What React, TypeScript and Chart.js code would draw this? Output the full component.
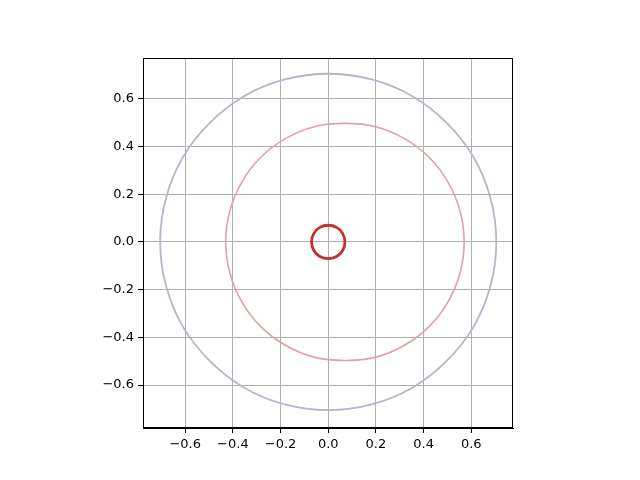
import React, { useEffect, useRef } from "react";
import { Chart, registerables } from "chart.js";

Chart.register(...registerables);

// Outer loop (gray-lavender), centre ~(0, 0), radius ~0.705
const outerX = [0.705, 0.681, 0.611, 0.498, 0.353, 0.182, 0.0, -0.182, -0.353, -0.498, -0.611, -0.681, -0.705, -0.681, -0.611, -0.498, -0.353, -0.182, 0.0, 0.182, 0.353, 0.498, 0.611, 0.681];
const outerY = [0.0, 0.182, 0.353, 0.498, 0.611, 0.681, 0.705, 0.681, 0.611, 0.498, 0.353, 0.182, 0.0, -0.182, -0.353, -0.498, -0.611, -0.681, -0.705, -0.681, -0.611, -0.498, -0.353, -0.182];

// Middle loop (pink), centre ~(0.07, 0), radius ~0.50
const middleX = [0.57, 0.553, 0.503, 0.424, 0.32, 0.199, 0.07, -0.059, -0.18, -0.284, -0.363, -0.413, -0.43, -0.413, -0.363, -0.284, -0.18, -0.059, 0.07, 0.199, 0.32, 0.424, 0.503, 0.553];
const middleY = [0.0, 0.129, 0.25, 0.354, 0.433, 0.483, 0.497, 0.483, 0.433, 0.354, 0.25, 0.129, 0.0, -0.129, -0.25, -0.354, -0.433, -0.483, -0.497, -0.483, -0.433, -0.354, -0.25, -0.129];

// Inner loop (red), centre ~(0, 0), radius ~0.07
const innerX = [0.07, 0.061, 0.035, 0.0, -0.035, -0.061, -0.07, -0.061, -0.035, 0.0, 0.035, 0.061];
const innerY = [0.0, 0.035, 0.061, 0.07, 0.061, 0.035, 0.0, -0.035, -0.061, -0.07, -0.061, -0.035];

const tickValues = [-0.6, -0.4, -0.2, 0.0, 0.2, 0.4, 0.6];

const toPts = (xs: number[], ys: number[]) => xs.map((x, i) => ({ x, y: ys[i] }));
const fmt = (v: number) => {
  const s = Number(v).toFixed(1);
  return s === "-0.0" ? "0.0" : s.replace("-", "\u2212");
};

// Treat each dataset line as a closed loop so the spline is smooth all round
const closedLoops = {
  id: "closedLoops",
  beforeDatasetDraw(chart: any, args: any) {
    const line = chart.getDatasetMeta(args.index).dataset;
    if (!line) return;
    line._loop = true;
    line._fullLoop = true;
    line._pointsUpdated = false;
    delete line._segments;
    delete line._path;
    line.updateControlPoints(chart.chartArea, "x");
  },
};

const frame = {
  id: "frame",
  afterDraw(chart: any) {
    const { ctx, chartArea: a } = chart;
    ctx.save();
    ctx.strokeStyle = "#000";
    ctx.lineWidth = 1;
    ctx.strokeRect(a.left + 0.5, a.top + 0.5, a.right - a.left - 1, a.bottom - a.top - 1);
    ctx.restore();
  },
};

export default function App() {
  const ref = useRef<HTMLCanvasElement>(null);
  useEffect(() => {
    if (!ref.current) return;
    const font = { family: "DejaVu Sans", size: 13 };
    const ds = (xs: number[], ys: number[], color: string, width: number, order: number) => ({
      data: toPts(xs, ys),
      borderColor: color,
      borderWidth: width,
      pointRadius: 0,
      tension: 0.36,
      fill: false,
      order,
    });
    const chart = new Chart(ref.current, {
      type: "line",
      data: {
        datasets: [
          ds(innerX, innerY, "#c62f2a", 2.8, 1),
          ds(middleX, middleY, "#dea2a8", 1.6, 2),
          ds(outerX, outerY, "#b6b6ca", 1.8, 3),
        ],
      },
      options: {
        responsive: false,
        animation: false,
        elements: { line: { capBezierPoints: false } },
        layout: { padding: { left: 0, right: 127, top: 58, bottom: 0 } },
        plugins: { legend: { display: false }, tooltip: { enabled: false } },
        scales: {
          x: {
            type: "linear",
            min: -0.777,
            max: 0.775,
            afterBuildTicks: (s: any) => { s.ticks = tickValues.map((v) => ({ value: v })); },
            afterFit: (s: any) => { s.height = 52; },
            ticks: { callback: (v: any) => fmt(v), color: "#000", font, padding: 4, maxRotation: 0 },
            grid: { color: "#b0b0b0", lineWidth: 1, tickColor: "#000", tickLength: 5 },
            border: { color: "#000", width: 1 },
          },
          y: {
            type: "linear",
            min: -0.78,
            max: 0.771,
            afterBuildTicks: (s: any) => { s.ticks = tickValues.map((v) => ({ value: v })); },
            afterFit: (s: any) => { s.width = 143; },
            ticks: { callback: (v: any) => fmt(v), color: "#000", font, padding: 4 },
            grid: { color: "#b0b0b0", lineWidth: 1, tickColor: "#000", tickLength: 5 },
            border: { color: "#000", width: 1 },
          },
        },
      },
      plugins: [closedLoops, frame],
    } as any);
    return () => chart.destroy();
  }, []);
  return (
    <div style={{ position: "fixed", left: 0, top: 0, width: 640, height: 480, background: "#fff" }}>
      <canvas ref={ref} width={640} height={480} />
    </div>
  );
}
